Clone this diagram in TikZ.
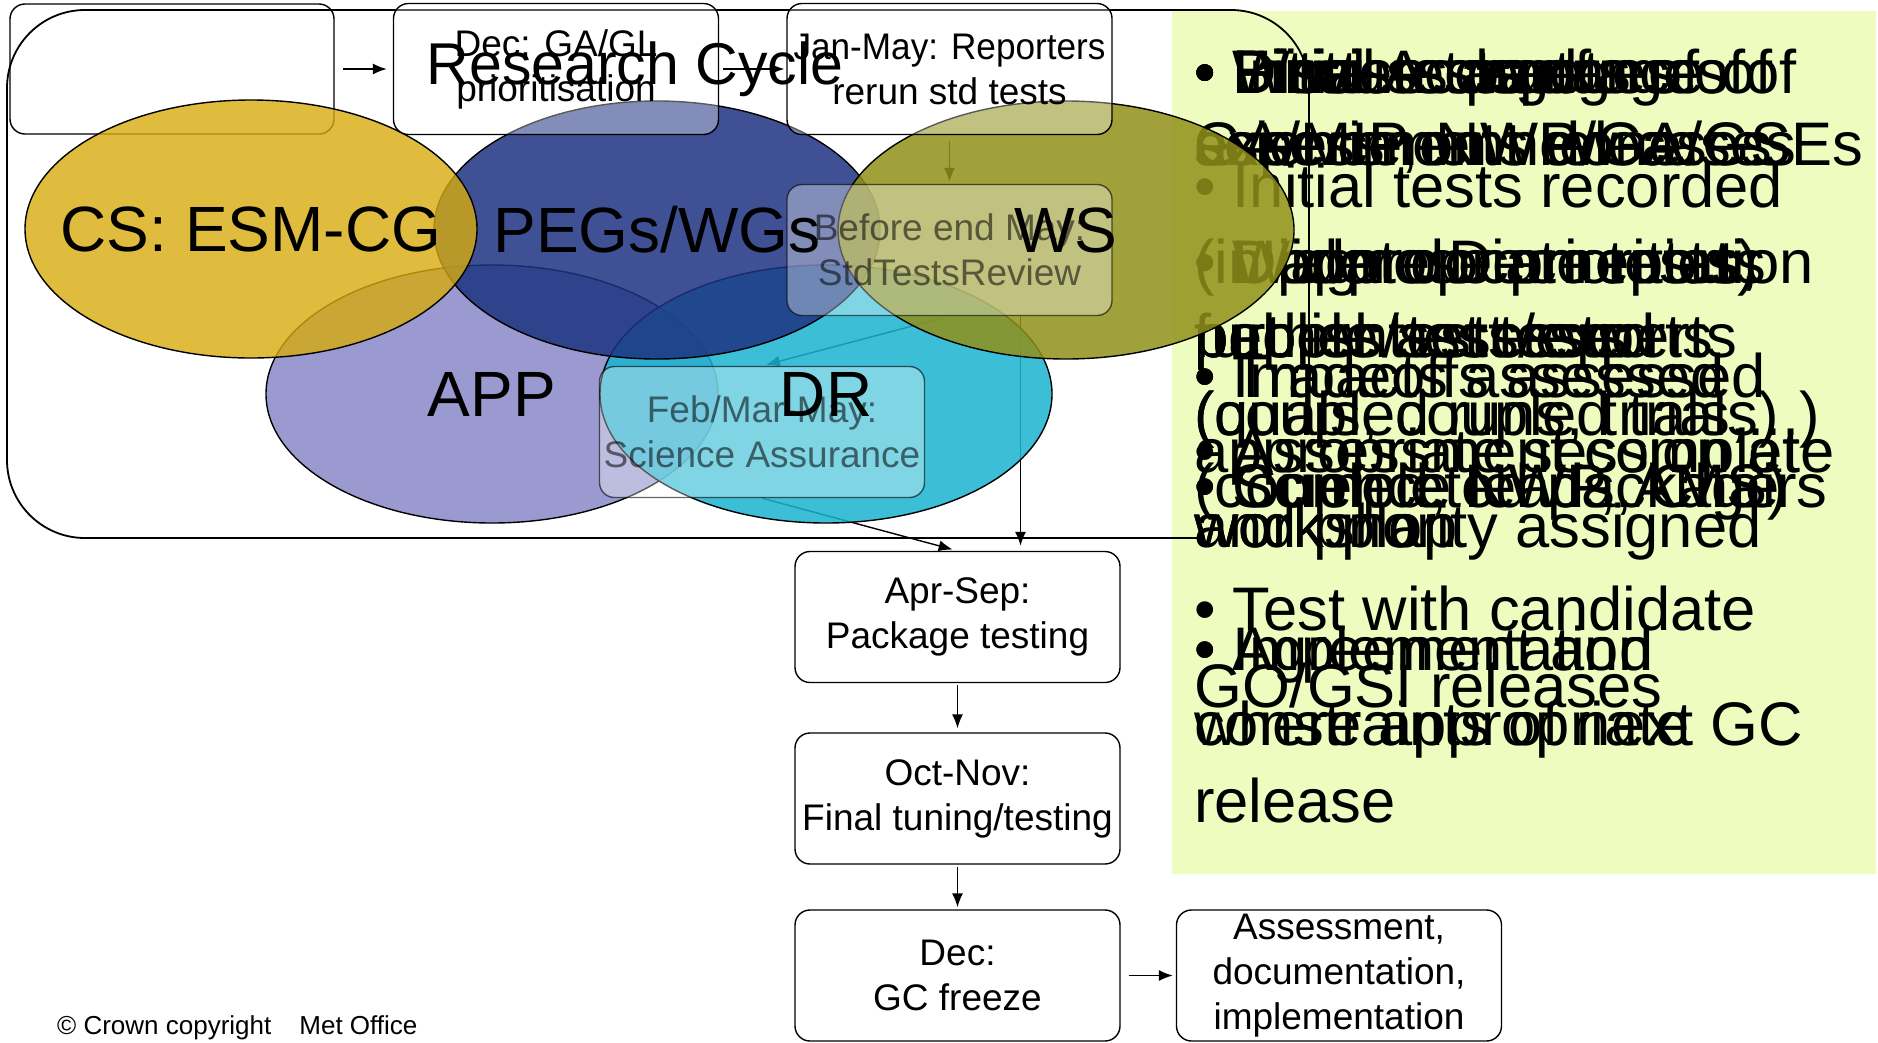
\documentclass[tikz,border=0pt]{standalone}
\usepackage{fontspec}
\setmainfont{Liberation Sans}
\usepackage{graphicx}
\usetikzlibrary{shapes.geometric,arrows.meta,calc}
\pgfdeclarelayer{bg}
\pgfdeclarelayer{ell}
\pgfdeclarelayer{fg}
\pgfsetlayers{bg,ell,main,fg}
\definecolor{csC}{RGB}{215,170,14}
\definecolor{pegC}{RGB}{29,51,129}
\definecolor{wsC}{RGB}{144,144,26}
\definecolor{appC}{RGB}{154,154,208}
\definecolor{drC}{RGB}{26,179,208}
\definecolor{panelC}{RGB}{238,252,191}
\begin{document}
\begin{tikzpicture}[x=1pt,y=-1pt,
  box/.style={draw,line width=1.4pt,rounded corners=15pt,minimum width=325pt,minimum height=131pt,inner sep=0pt,align=center,font=\fontsize{37}{45}\selectfont},
  tbox/.style={box,fill=white,fill opacity=0.35,text opacity=1},
  gbox/.style={box,fill=white,fill opacity=0.35,draw opacity=0.6,text opacity=0.55},
  obox/.style={box,fill=white},
  ell/.style={ellipse,draw,line width=1.4pt,minimum width=452pt,minimum height=258pt,inner sep=0pt},
  big/.style={font=\fontsize{64}{70}\selectfont,inner sep=0pt},
  ptext/.style={anchor=base west,inner sep=0pt,font=\fontsize{61.5}{75}\selectfont},
  arr/.style={line width=1.4pt,-{Latex[length=14pt,width=11pt]}}]
\useasboundingbox (0,0) rectangle (1878,1042);

% ---------- boxes ----------
\node[tbox] (dec) at (556,69) {Dec: GA/GL\\prioritisation};
\node[tbox] (jan) at (949.5,69) {\scalebox{0.95}[1]{Jan-May: Reporters}\\rerun std tests};
\node[gbox] (bem) at (949.5,250) {Before end May:\\StdTestsReview};
\node[gbox] (feb) at (762,432) {Feb/Mar-May:\\Science Assurance};
\node[obox] (pkg) at (957.5,617) {Apr-Sep:\\Package testing};
\node[obox] (oct) at (957.5,798.5) {Oct-Nov:\\Final tuning/testing};
\node[obox] (gcf) at (957.5,975.5) {Dec:\\GC freeze};
\node[obox] (ass) at (1339,975.5) {Assessment,\\documentation,\\implementation};

\begin{pgfonlayer}{bg}
  \fill[panelC] (1172,11) rectangle (1876,874);
  \node[box,minimum width=324pt,minimum height=130pt] (boxA) at (172,69) {};
  \draw[line width=1.8pt,rounded corners=78pt] (7,10) rectangle (1309,538);
  \fill[panelC] (1200,385) rectangle (1330,560);
  % panel text, many overlapping lines
  \node[ptext] (p1a) at (1194,93) {• Initial tests of};
  \node[ptext] (p1b) at (1194,93) {• Bitwise changes of};
  \node[ptext] (p1c) at (1194,93) {• Discuss packages of};
  \node[ptext] (p1d) at (1194,93) {• Written targets of};
  \node[ptext] (p1e) at (1194,93) {• Final Acceptance of};
  \node[ptext] (p2a) at (1194,165) {GA/MIP, NWP/GA/GSEs};
  \node[ptext] (p2b) at (1194,165) {assessment releases};
  \node[ptext] (p2c) at (1194,165) {science on new cases};
  \node[ptext] (p2d) at (1194,165) {experiments done};
  \node[ptext] (p3a) at (1194,207) {• Initial tests recorded};
  \node[ptext] (p4a) at (1194,283) {(in appropriate tests)};
  \node[ptext] (p4b) at (1194,283) {• Wider documentation};
  \node[ptext] (p4c) at (1194,283) {• Diagnose priorities,};
  \node[ptext] (p4d) at (1194,283) {• Update Dec reports};
  \node[ptext] (p5a) at (1194,357) {further tests/experts};
  \node[ptext] (p5b) at (1194,357) {papers/set tests};
  \node[ptext] (p5c) at (1194,357) {people assessed};
  \node[ptext] (p5d) at (1194,357) {publish test reports};
  \node[ptext] (p6a) at (1194,397) {• Impacts assessed};
  \node[ptext] (p6b) at (1194,397) {• Tradeoffs assessed};
  \node[ptext] (p7a) at (1194,435) {(coupled runs, trials,...)};
  \node[ptext] (p7b) at (1194,435) {(quals, coupled trials)};
  \node[ptext] (p8a) at (1194,472) {appropriate session at};
  \node[ptext] (p8b) at (1194,472) {• Assessment complete};
  \node[ptext] (p9a) at (1194,507) {(coupled, NWP, AMS)};
  \node[ptext] (p9b) at (1194,507) {• Completed package};
  \node[ptext] (p9c) at (1194,507) {• Science leads, Chairs};
  \node[ptext] (p10a) at (1194,547) {workshop};
  \node[ptext] (p10b) at (1194,547) {and priority assigned};
  \node[ptext] (p10c) at (1194,547) {work plan};
  \node[ptext] (p11a) at (1194,630) {• Test with candidate};
  \node[ptext] (p12a) at (1194,670) {• Agreement and};
  \node[ptext] (p12b) at (1194,670) {• Implementation};
  \node[ptext] (p13a) at (1194,707) {GO/GSI releases};
  \node[ptext] (p14a) at (1194,745) {where appropriate};
  \node[ptext] (p14b) at (1194,745) {constraints of next GC};
  \node[ptext] (p15a) at (1194,822) {release};
  % connectors
  \draw[arr,shorten <=8pt,shorten >=6pt] (boxA.east) -- (dec.west);
  \draw[arr,shorten <=4pt,shorten >=2pt] (dec.east) -- (jan.west);
  \draw[arr,shorten <=6pt,shorten >=2pt] (jan.south) -- (bem.north);
  \draw[arr,shorten <=5pt,shorten >=4pt] (bem.south) -- (feb.north);
  \draw[arr,shorten >=5pt] (feb.south) -- (pkg.north);
  \draw[arr,shorten >=5pt] ($(bem.south)+(71,0)$) -- ($(bem.south |- pkg.north)+(71,0)$);
  \draw[arr,shorten <=2pt,shorten >=4pt] (pkg.south) -- (oct.north);
  \draw[arr,shorten <=2pt,shorten >=2pt] (oct.south) -- (gcf.north);
  \draw[arr,shorten <=8pt,shorten >=3pt] (gcf.east) -- (ass.west);
  \node[anchor=base west,inner sep=0pt,font=\fontsize{26}{30}\selectfont] (copy) at (57,1034) {© Crown copyright\hspace{28pt}Met Office};
\end{pgfonlayer}

\begin{pgfonlayer}{ell}
  \node[ell,fill=appC] (app) at (492,394) {};
  \node[ell,fill=drC,fill opacity=0.85] (dr) at (826,394) {};
  \node[ell,fill=pegC,fill opacity=0.85,minimum width=446pt] (pegs) at (657,230) {};
  \node[ell,fill=csC,fill opacity=0.8] (cs) at (251,229) {};
  \node[ell,fill=wsC,fill opacity=0.85,minimum width=456pt] (ws) at (1066,230) {};
\end{pgfonlayer}

\begin{pgfonlayer}{fg}
  \node[font=\fontsize{59}{70}\selectfont,inner sep=0pt,anchor=base] (title) at (635,84) {Research Cycle};
  \node[big] (cslbl) at (cs.center) {CS: ESM-CG};
  \node[big] (peglbl) at (pegs.center) {PEGs/WGs};
  \node[big] (wslbl) at (ws.center) {WS};
  \node[big] (applbl) at (app.center) {APP};
  \node[big] (drlbl) at (dr.center) {DR};
\end{pgfonlayer}
\end{tikzpicture}
\end{document}
